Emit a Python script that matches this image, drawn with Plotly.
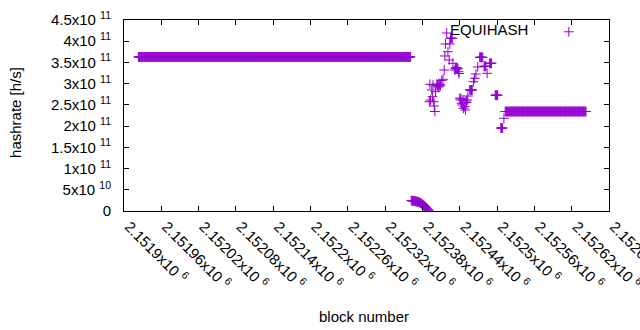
import numpy as np
import plotly.graph_objects as go

# ---- data ----
# long runs where every block reports the same hashrate
FLAT_START = [2151923, 2152513]
FLAT_END = [2152361, 2152643]
FLAT_VALUE = [3.63e11, 2.344e11]

# short fall towards zero, one value per block starting at DROP_START (units 1e10)
DROP_START = 2152362
DROP_VALUES_E10 = [2.45, 2.43, 2.41, 2.39, 2.37, 2.34, 2.31, 2.28, 2.25, 2.22,
                   2.18, 2.14, 2.09, 2.03, 1.96, 1.88, 1.79, 1.69, 1.58, 1.46,
                   1.33, 1.19, 1.05, 0.91, 0.76, 0.61, 0.46, 0.31, 0.16]

# scattered blocks (units 1e11)
SCATTER_BLOCKS = [2152391, 2152392, 2152393, 2152395, 2152396, 2152397, 2152398, 2152399,
                  2152400, 2152401, 2152403, 2152404, 2152405, 2152406, 2152407, 2152408,
                  2152409, 2152411, 2152413, 2152415, 2152416, 2152417, 2152419, 2152421,
                  2152423, 2152424, 2152425, 2152426, 2152427, 2152428, 2152429, 2152432,
                  2152433, 2152434, 2152435, 2152436, 2152437, 2152438, 2152439, 2152440,
                  2152441, 2152442, 2152443, 2152444, 2152445, 2152446, 2152447, 2152448,
                  2152449, 2152450, 2152451, 2152452, 2152453, 2152456, 2152457, 2152458,
                  2152459, 2152460, 2152462, 2152464, 2152466, 2152469, 2152472, 2152473,
                  2152474, 2152475, 2152476, 2152477, 2152479, 2152480, 2152481, 2152482,
                  2152484, 2152488, 2152489, 2152490, 2152491, 2152497, 2152498, 2152499,
                  2152500, 2152501, 2152506, 2152507, 2152508, 2152509, 2152511]
SCATTER_VALUES_E11 = [2.575, 2.985, 2.615, 2.851, 2.693, 2.969, 2.575, 2.474,
                      2.344, 2.811, 2.992, 2.945, 2.969, 2.921, 2.980, 2.945,
                      2.969, 3.075, 3.103, 3.322, 3.652, 3.935, 4.194, 3.753,
                      3.558, 3.935, 4.069, 4.069, 4.069, 4.069, 3.480, 3.322,
                      3.362, 3.381, 3.346, 3.369, 3.350, 3.282, 3.240, 2.655,
                      2.615, 2.655, 2.537, 2.497, 2.615, 2.420, 2.545, 2.457,
                      2.380, 2.592, 2.556, 2.615, 2.709, 2.851, 2.851, 2.851,
                      2.851, 2.851, 3.046, 3.126, 3.228, 3.393, 3.621, 3.621,
                      3.621, 3.621, 3.621, 3.621, 3.409, 3.409, 3.409, 3.409,
                      3.244, 3.480, 3.480, 3.480, 3.480, 2.728, 2.728, 2.728,
                      2.728, 2.728, 1.955, 1.955, 1.955, 1.955, 2.184]

X_TICK_VALUES = [2151900, 2151960, 2152020, 2152080, 2152140, 2152200, 2152260,
                 2152320, 2152380, 2152440, 2152500, 2152560, 2152620, 2152680]
X_TICK_MANTISSA = ["2.1519", "2.15196", "2.15202", "2.15208", "2.15214", "2.1522",
                   "2.15226", "2.15232", "2.15238", "2.15244", "2.1525", "2.15256",
                   "2.15262", "2.15268"]
Y_TICK_VALUES = [0, 0.5e11, 1e11, 1.5e11, 2e11, 2.5e11, 3e11, 3.5e11, 4e11, 4.5e11]
Y_TICK_TEXT = ["0", "5x10 <sup>10</sup>", "1x10 <sup>11</sup>", "1.5x10 <sup>11</sup>",
               "2x10 <sup>11</sup>", "2.5x10 <sup>11</sup>", "3x10 <sup>11</sup>",
               "3.5x10 <sup>11</sup>", "4x10 <sup>11</sup>", "4.5x10 <sup>11</sup>"]

# ---- assemble one series ----
xs, ys = [], []
xs += list(range(FLAT_START[0], FLAT_END[0] + 1))
ys += [FLAT_VALUE[0]] * (FLAT_END[0] - FLAT_START[0] + 1)
xs += [DROP_START + i for i in range(len(DROP_VALUES_E10))]
ys += [v * 1e10 for v in DROP_VALUES_E10]
xs += SCATTER_BLOCKS
ys += [v * 1e11 for v in SCATTER_VALUES_E11]
xs += list(range(FLAT_START[1], FLAT_END[1] + 1))
ys += [FLAT_VALUE[1]] * (FLAT_END[1] - FLAT_START[1] + 1)

PURPLE = "#9400D3"
FONT = "Liberation Sans, Arial, sans-serif"

fig = go.Figure()
fig.add_trace(go.Scatter(
    x=xs, y=ys, mode="markers", name="",
    marker=dict(symbol="cross-thin", size=7, color=PURPLE,
                line=dict(color=PURPLE, width=1)),
    hoverinfo="skip",
))

axis_common = dict(showgrid=False, zeroline=False, showline=True, linecolor="black",
                   linewidth=1, mirror="ticks", ticks="inside", ticklen=5,
                   tickcolor="black", tickwidth=1, automargin=False,
                   ticklabeloverflow="allow")

fig.update_layout(
    width=640, height=330,
    margin=dict(l=124, r=31, t=20, b=119),
    paper_bgcolor="white", plot_bgcolor="white",
    font=dict(family=FONT, size=15, color="black"),
    showlegend=True,
    legend=dict(x=0.668, xanchor="left", y=0.937, yanchor="middle",
                bgcolor="rgba(0,0,0,0)", borderwidth=0,
                title=dict(text="EQUIHASH\u00a0\u00a0\u00a0", side="left", font=dict(size=15))),
    xaxis=dict(range=[2151900, 2152680], tickvals=X_TICK_VALUES,
               ticktext=[m + "x10 <sup>6</sup>" for m in X_TICK_MANTISSA],
               tickangle=45, ticklabelshift=5, **axis_common),
    yaxis=dict(range=[0, 4.5e11], tickvals=Y_TICK_VALUES, ticktext=Y_TICK_TEXT,
               ticklabelstandoff=9, **axis_common),
    annotations=[
        dict(text="hashrate [h/s]", xref="paper", yref="paper", x=-0.225, y=0.518,
             textangle=-90, showarrow=False, xanchor="center", yanchor="middle"),
        dict(text="block number", xref="paper", yref="paper", x=0.495, y=-0.55,
             showarrow=False, xanchor="center", yanchor="middle"),
    ],
)

fig.write_html("out.html",
               config={"displayModeBar": False},
               post_script="document.body.style.margin='0';document.body.style.overflow='hidden';")
